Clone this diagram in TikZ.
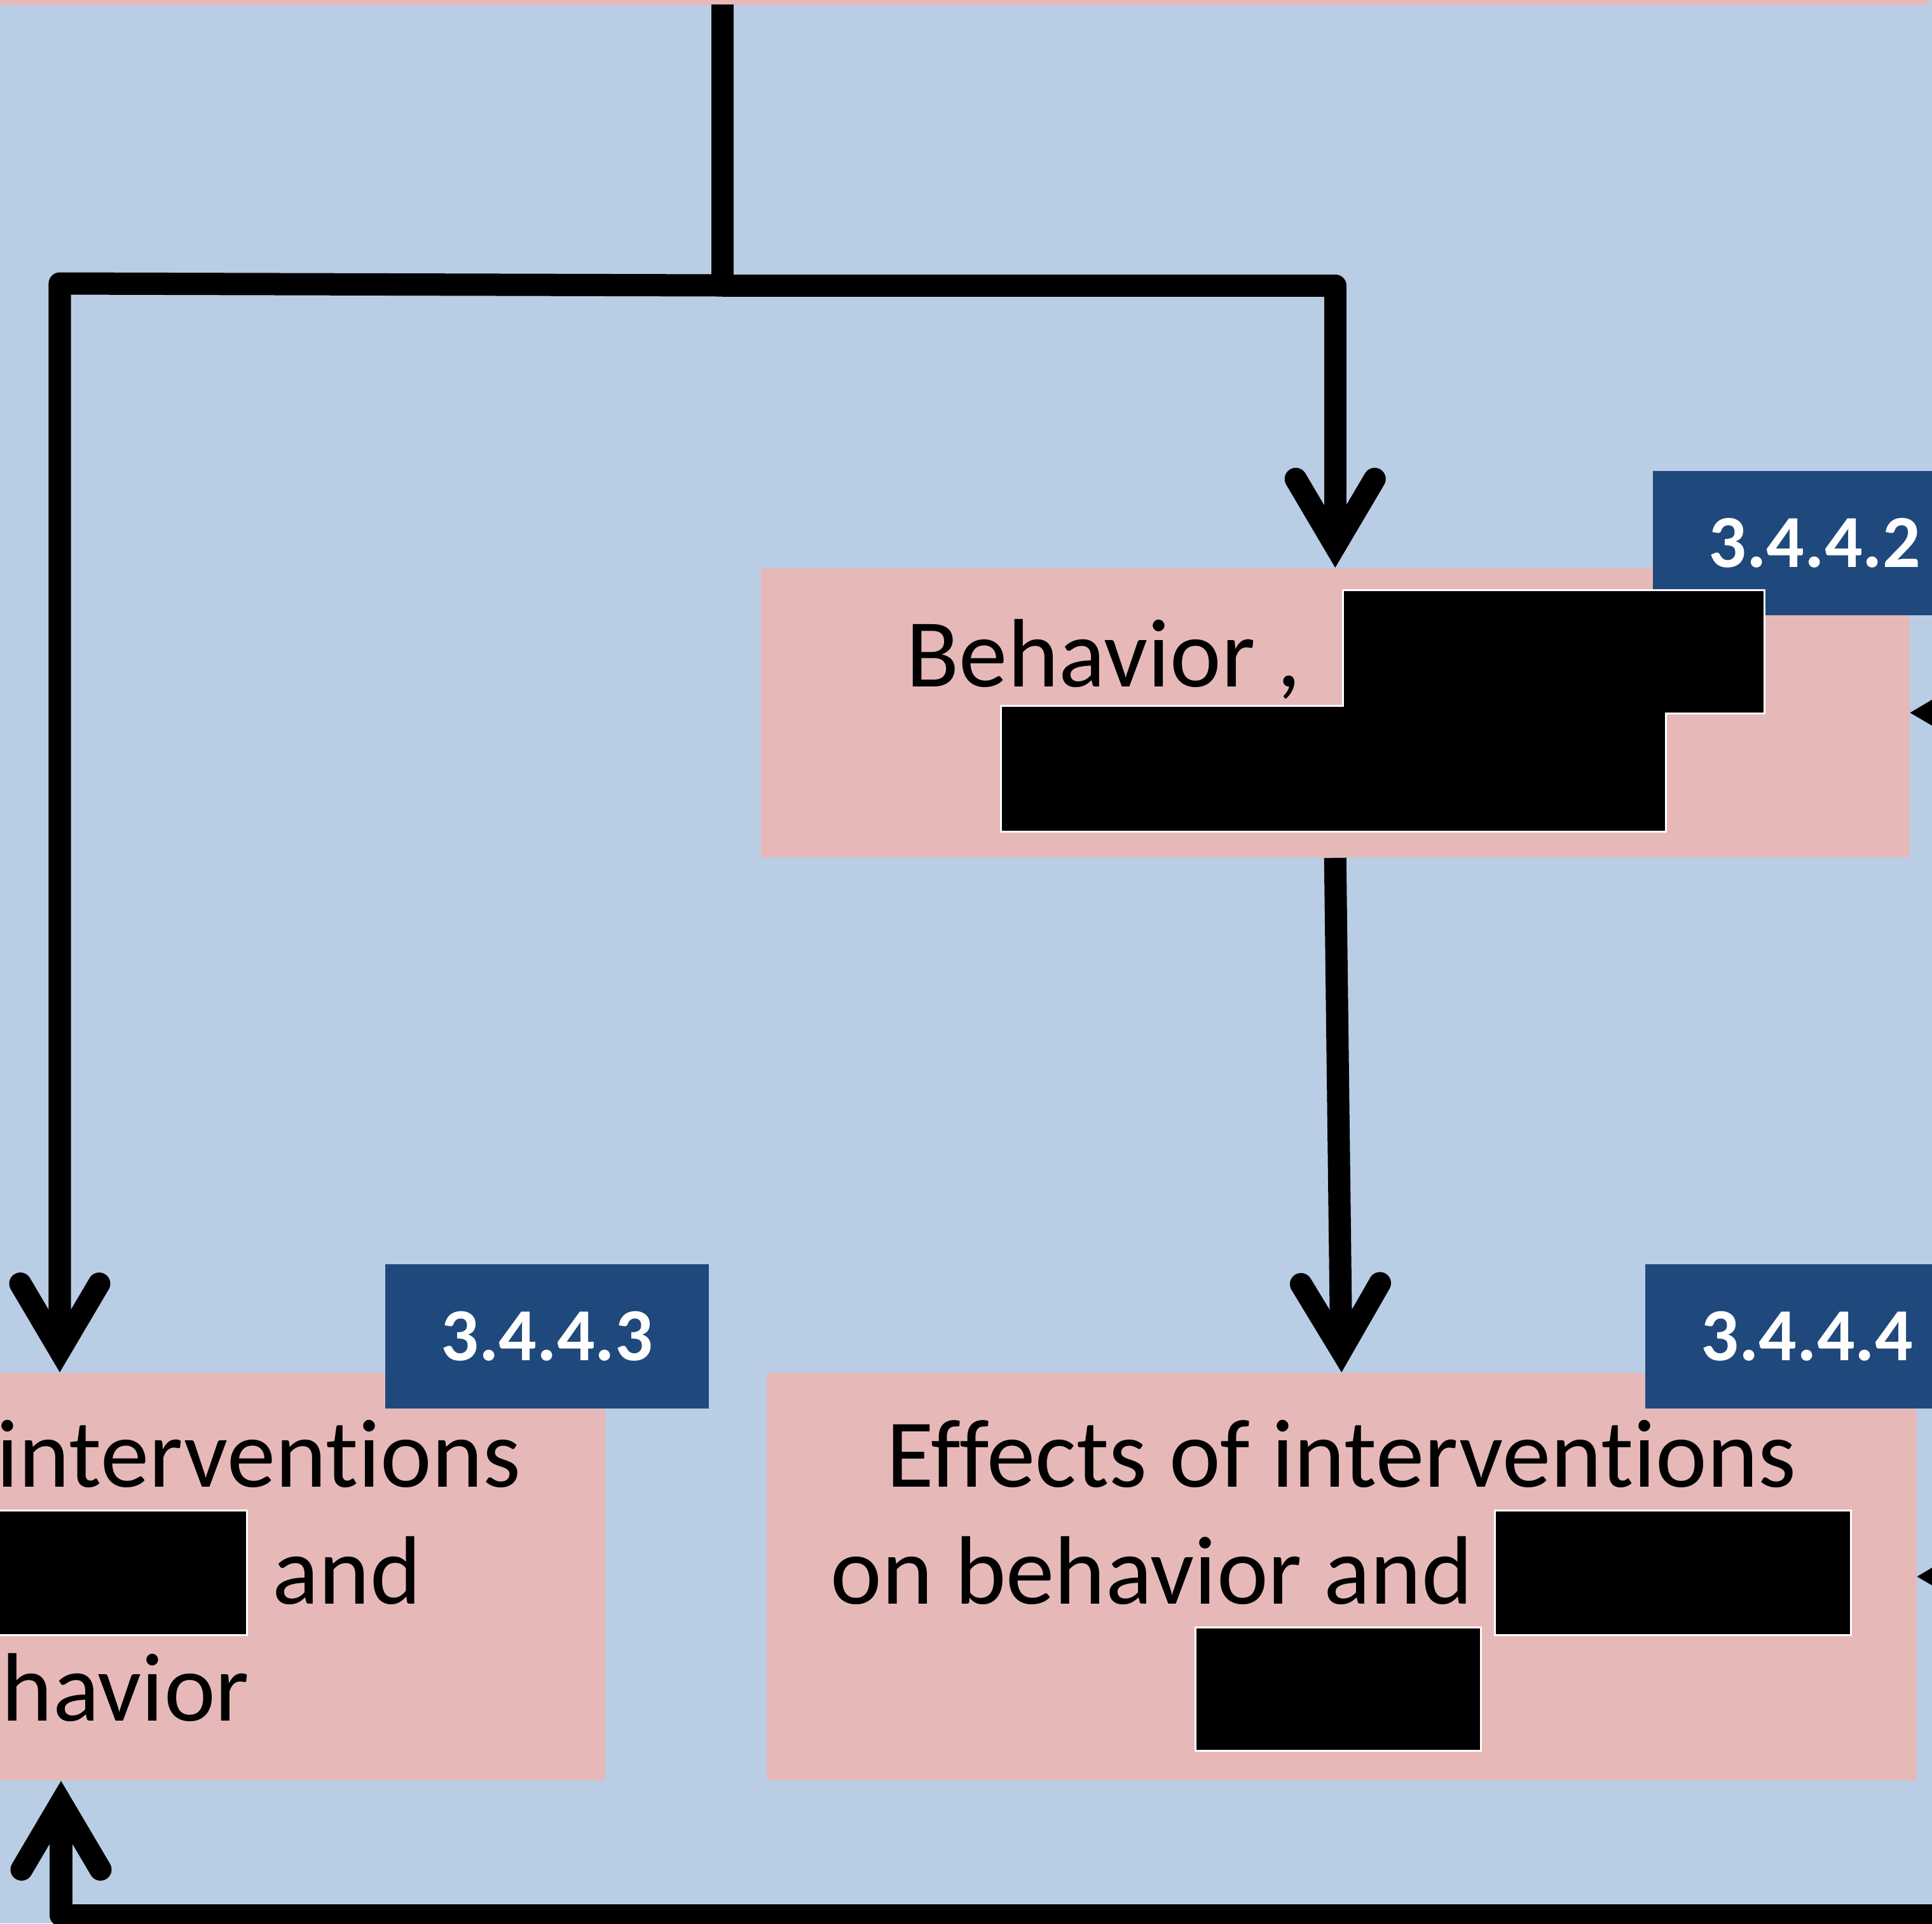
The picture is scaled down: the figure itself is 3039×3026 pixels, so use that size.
\documentclass[tikz,border=0pt]{standalone}
\usepackage{fontspec}
\setmainfont{Carlito}[Ligatures={NoCommon,NoContextual}]
\usetikzlibrary{arrows.meta}
\definecolor{bgblue}{HTML}{B9CDE5}
\definecolor{pinkfill}{HTML}{E6B9B8}
\definecolor{labelblue}{HTML}{1F497D}
\begin{document}
\begin{tikzpicture}[x=0.01cm,y=-0.01cm,
  box/.style={fill=pinkfill, draw=none, inner sep=0, anchor=north west, minimum width=18.07cm},
  tag/.style={fill=labelblue, text=white, font=\fontsize{33.5}{40}\selectfont\bfseries, inner sep=0, anchor=north west, minimum width=5.09cm, minimum height=2.27cm},
  txt/.style={inner sep=0, font=\fontsize{43.5}{52}\selectfont},
  redact/.style={fill=black, draw=white, line width=0.03cm},
  conn/.style={line width=0.35cm, line join=round},
  arr/.style={conn, -{Straight Barb[length=1.05cm, width=1.24cm, line cap=round, line join=miter]}}]
\useasboundingbox (0,0) rectangle (3039,3026);
\clip (0,0) rectangle (3039,3026);
\fill[bgblue] (0,0) rectangle (3039,3026);

% boxes
\node[box, minimum width=30.30cm, minimum height=1.07cm] (above) at (0,-100) {};
\node[box, minimum width=18.06cm, minimum height=4.55cm] (b2) at (1196,893) {};
\node[box, minimum width=18.08cm, minimum height=6.41cm] (b4) at (1205,2159) {};
\node[box, minimum width=18.08cm, minimum height=6.41cm] (b3) at (-858,2159) {};

% tags
\node[tag] (l2) at (2599,740) {3.4.4.2};
\node[tag] (l3) at (605,1988) {3.4.4.3};
\node[tag] (l4) at (2587,1988) {3.4.4.4};

% texts box 2
\node[txt, anchor=base west] (t2a) at (1425,1080) {Behavior ,};
\draw[redact] (2112,928) -- (2775,928) -- (2775,1122) -- (2620,1122) -- (2620,1308) -- (1574,1308) -- (1574,1110) -- (2112,1110) -- cycle;

% texts box 4
\node[txt, anchor=base] (t4a) at (2110,2339) {Effects of interventions};
\node[txt, anchor=base west] (t4b) at (1306,2523) {on behavior and};
\draw[redact] (2351,2376) rectangle (2911,2572);
\draw[redact] (1880,2560) rectangle (2329,2754);

% texts box 3
\node[txt, anchor=base east] (t3a) at (820,2339) {interventions};
\node[txt, anchor=base west] (t3b) at (428,2523) {and};
\node[txt, anchor=base west] (t3c) at (2,2707) {havior};
\draw[redact] (-20,2376) rectangle (388,2572);

% connectors
\coordinate (top) at (1136,7);
\coordinate (j) at (1136,449);
\coordinate (jl) at (94,446);
\coordinate (r2) at (3400,1120);
\coordinate (r4) at (3400,2479);
\coordinate (br) at (3300,3013);
\coordinate (bl) at (96,3013);

\draw[conn] (top) -- (j);
\draw[arr] (j) -- (jl) -- (jl |- b3.north);
\draw[arr] (j) -| (b2.north);
\draw[arr] (b2.south) -- (b4.north);
\draw[arr] (r2) -- (b2.east);
\draw[arr] (r4) -- (b4.east);
\draw[arr] (br) -- (bl) -- (bl |- b3.south);
\end{tikzpicture}
\end{document}
